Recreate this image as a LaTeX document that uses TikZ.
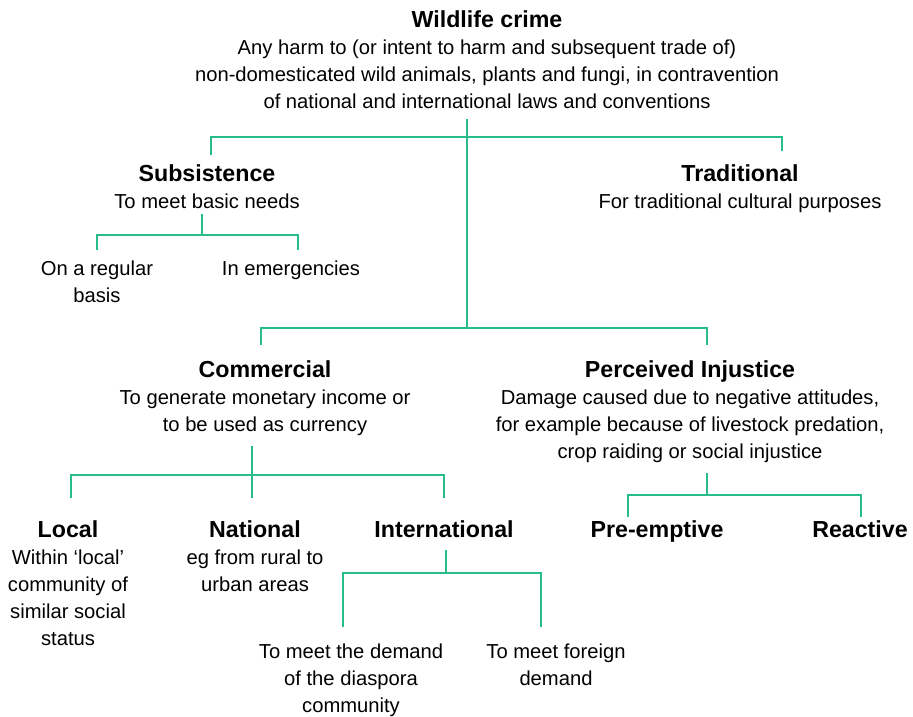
\documentclass[tikz,border=0pt]{standalone}
\usepackage{fontspec}
\setmainfont{Liberation Sans}
\usetikzlibrary{positioning}
\usetikzlibrary{calc}

\definecolor{treegreen}{RGB}{38,188,140}
\newcommand{\hd}[1]{{\fontsize{11.6}{13.5}\selectfont\bfseries #1}}

\begin{document}
\begin{tikzpicture}[x=0.5pt, y=-0.5pt,
    txt/.style={anchor=north, align=center, inner sep=0pt, font=\fontsize{10.1}{13.5}\selectfont},
    link/.style={draw=treegreen, line width=1pt}]
 \useasboundingbox (0,0) rectangle (913,716);

 % Top level
 \node[txt] (wc) at (487,10) {\hd{Wildlife crime}\\Any harm to (or intent to harm and subsequent trade of)\\non-domesticated wild animals, plants and fungi, in contravention\\of national and international laws and conventions};

 % Second level
 \node[txt] (sub) at (207,164) {\hd{Subsistence}\\To meet basic needs};
 \node[txt] (trad) at (740,164) {\hd{Traditional}\\For traditional cultural purposes};
 \node[txt] (reg) at (97,260) {On a regular\\basis};
 \node[txt] (emg) at (291,260) {In emergencies};

 % Third level
 \node[txt] (comm) at (265,360) {\hd{Commercial}\\To generate monetary income or\\to be used as currency};
 \node[txt] (pi) at (690,360) {\hd{Perceived Injustice}\\Damage caused due to negative attitudes,\\for example because of livestock predation,\\crop raiding or social injustice};

 \node[txt] (loc) at (68,520) {\hd{Local}\\Within `local'\\community of\\similar social\\status};
 \node[txt] (nat) at (255,520) {\hd{National}\\eg from rural to\\urban areas};
 \node[txt] (int) at (444,520) {\hd{International}};
 \node[txt] (pre) at (657,520) {\hd{Pre-emptive}};
 \node[txt] (reac) at (860,520) {\hd{Reactive}};

 \node[txt] (dia) at (351,643) {To meet the demand\\of the diaspora\\community};
 \node[txt] (for) at (556,643) {To meet foreign\\demand};

 % Junctions
 \coordinate (j-wc) at (467,137);
 \coordinate (j-mid) at (467,328);
 \coordinate (j-sub) at (202,235);
 \coordinate (j-comm) at (252,475);
 \coordinate (j-int) at (446,573);
 \coordinate (j-pi) at (707,495);

 % Connectors
 \draw[link] (j-wc |- wc.south) ++(0,10) -- (j-mid);
 \draw[link] ([shift={(4,-9)}]sub.north) |- (j-wc) -| ([shift={(42,-13)}]trad.north);
 \draw[link] ([shift={(-4,-15)}]comm.north) |- (j-mid) -| ([shift={(17,-15)}]pi.north);

 \draw[link] (j-sub |- sub.south) ++(0,5) -- (j-sub);
 \draw[link] ([shift={(0,-10)}]reg.north) |- (j-sub) -| ([shift={(7,-10)}]emg.north);

 \draw[link] (j-comm |- comm.south) ++(0,10) -- (j-comm);
 \draw[link] ([shift={(3,-22)}]loc.north) |- (j-comm) -| ([shift={(-3,-22)}]nat.north);
 \draw[link] (j-comm) -| ([shift={(0,-22)}]int.north);

 \draw[link] (j-int |- int.south) ++(0,12) -- (j-int);
 \draw[link] ([shift={(-8,-16)}]dia.north) |- (j-int) -| ([shift={(-15,-16)}]for.north);

 \draw[link] (j-pi |- pi.south) ++(0,10) -- (j-pi);
 \draw[link] ([shift={(-29,-3)}]pre.north) |- (j-pi) -| ([shift={(1,-3)}]reac.north);
\end{tikzpicture}
\end{document}
